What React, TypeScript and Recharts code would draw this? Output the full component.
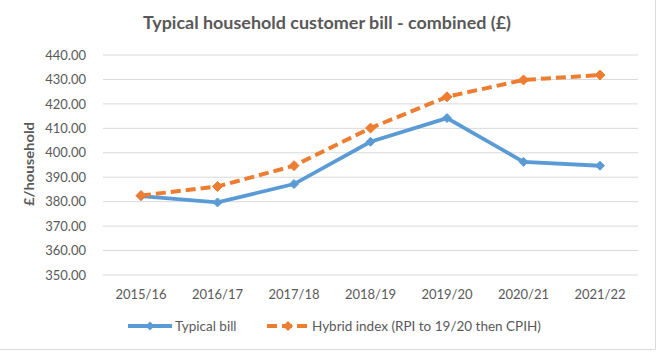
import React from 'react';
import { LineChart, Line, XAxis, YAxis, CartesianGrid } from 'recharts';

const categories = ['2015/16', '2016/17', '2017/18', '2018/19', '2019/20', '2020/21', '2021/22'];
const typicalBill = [382.3, 379.7, 387.2, 404.5, 414.2, 396.3, 394.7];
const hybridIndex = [382.5, 386.2, 394.7, 410.1, 422.9, 429.8, 431.8];
const yTicks = [350, 360, 370, 380, 390, 400, 410, 420, 430, 440];

const titleText = 'Typical household customer bill - combined (£)';
const yAxisTitle = '£/household';
const seriesNames = ['Typical bill', 'Hybrid index (RPI to 19/20 then CPIH)'];

const data = categories.map((c, i) => ({ year: c, bill: typicalBill[i], hybrid: hybridIndex[i] }));

const BLUE = '#5B9BD5';
const ORANGE = '#ED7D31';
const TEXT = '#595959';
const FONT = 'Lato, "Open Sans", sans-serif';

const makeDiamond = (color: string, r: number) => (props: any) => {
  const { cx, cy, index } = props;
  if (cx == null || cy == null) return <g key={`d-${index}`} />;
  return (
    <polygon
      key={`d-${color}-${index}`}
      points={`${cx},${cy - r} ${cx + r},${cy} ${cx},${cy + r} ${cx - r},${cy}`}
      fill={color}
      stroke={color}
      strokeWidth={1}
    />
  );
};

const LegendDiamond = ({ x, y, r, color }: { x: number; y: number; r: number; color: string }) => (
  <polygon points={`${x},${y - r} ${x + r},${y} ${x},${y + r} ${x - r},${y}`} fill={color} />
);

export default function App() {
  return (
    <div style={{ position: 'absolute', left: 0, top: 0, width: 659, height: 352, background: '#fff' }}>
      <LineChart
        width={659}
        height={352}
        data={data}
        margin={{ top: 55, right: 21, bottom: 47, left: 0 }}
      >
        <CartesianGrid vertical={false} stroke="#D9D9D9" strokeWidth={1} />
        <XAxis
          dataKey="year"
          height={30}
          interval={0}
          padding={{ left: 38, right: 38 }}
          axisLine={false}
          tickLine={false}
          tickSize={0}
          tickMargin={15}
          tick={{ fill: TEXT, fontSize: 13, fontFamily: FONT }}
        />
        <YAxis
          domain={[350, 440]}
          ticks={yTicks}
          interval={0}
          width={103}
          axisLine={false}
          tickLine={false}
          tickSize={0}
          tickMargin={17}
          tickFormatter={(v: number) => v.toFixed(2)}
          tick={{ fill: TEXT, fontSize: 13, fontFamily: FONT }}
        />
        <Line
          type="linear"
          dataKey="bill"
          name={seriesNames[0]}
          stroke={BLUE}
          strokeWidth={3.8}
          dot={makeDiamond(BLUE, 4.5)}
          activeDot={false}
          isAnimationActive={false}
        />
        <Line
          type="linear"
          dataKey="hybrid"
          name={seriesNames[1]}
          stroke={ORANGE}
          strokeWidth={4}
          strokeDasharray="10 5"
          dot={makeDiamond(ORANGE, 5)}
          activeDot={false}
          isAnimationActive={false}
        />
      </LineChart>
      <svg
        width={659}
        height={352}
        style={{ position: 'absolute', left: 0, top: 0, pointerEvents: 'none' }}
      >
        <line x1={655.5} y1={0} x2={655.5} y2={349.5} stroke="#D9D9D9" strokeWidth={1} />
        <line x1={0} y1={349.5} x2={655.5} y2={349.5} stroke="#D9D9D9" strokeWidth={1} />
        <text
          x={327}
          y={28.5}
          textAnchor="middle"
          fill={TEXT}
          fontFamily={FONT}
          fontWeight="bold"
          fontSize={16.5}
          textLength={368}
          lengthAdjust="spacingAndGlyphs"
        >
          {titleText}
        </text>
        <text
          x={34}
          y={164}
          transform="rotate(-90, 34, 164)"
          textAnchor="middle"
          fill={TEXT}
          fontFamily={FONT}
          fontWeight="bold"
          fontSize={14}
          textLength={84}
          lengthAdjust="spacingAndGlyphs"
        >
          {yAxisTitle}
        </text>
        <line x1={128} y1={326} x2={172} y2={326} stroke={BLUE} strokeWidth={3.8} />
        <LegendDiamond x={150} y={326} r={4.5} color={BLUE} />
        <text x={175} y={331} fill={TEXT} fontFamily={FONT} fontSize={13.5}>
          {seriesNames[0]}
        </text>
        <line x1={267} y1={326} x2={309} y2={326} stroke={ORANGE} strokeWidth={4} strokeDasharray="10 5" />
        <LegendDiamond x={288} y={326} r={5} color={ORANGE} />
        <text x={312} y={331} fill={TEXT} fontFamily={FONT} fontSize={13.5}>
          {seriesNames[1]}
        </text>
      </svg>
    </div>
  );
}
